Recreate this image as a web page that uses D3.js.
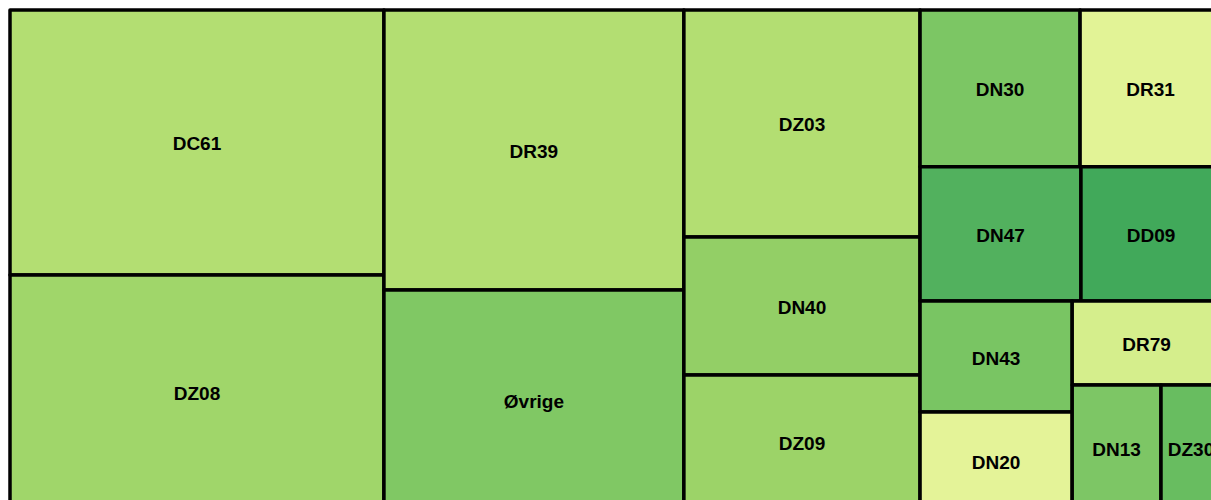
<!DOCTYPE html>
<html>
<head>
<meta charset="utf-8">
<script src="https://cdn.jsdelivr.net/npm/d3@7"></script>
<style>
  html, body { margin: 0; padding: 0; overflow: hidden; background: #fff; }
</style>
</head>
<body>
<div id="chart-area"></div>
<script>
// data (values ~ area)
var codes  = ["DC61", "DZ08", "DR39", "Øvrige", "DZ03", "DN40", "DZ09", "DN30",
              "DR31", "DN47", "DD09", "DN43", "DN20", "DR79", "DN13", "DZ30"];
var values = [991, 879, 840, 660, 536, 326, 319, 251,
              221, 216, 188, 169, 149, 125, 111, 75];
var colors = ["#b3de72", "#a0d66a", "#b3de72", "#80c864", "#b3de72", "#93cf66", "#9cd368", "#7cc664",
              "#e2f396", "#52b15e", "#41a95a", "#79c563", "#e4f398", "#d5ee8c", "#7dc665", "#68bd60"];

var margin = {top: 10, left: 10};
var width = 1211;
var height = 500;

var svg = d3.select('#chart-area')
    .append('svg')
        .attr('width', width + margin.left + 20)
        .attr('height', height + margin.top + 20)
        .style('display', 'block');

var g = svg.append('g')
    .attr('transform', 'translate(' + margin.left + ', ' + margin.top + ')');

var data = codes.map(function (c, i) {
    return {name: c, value: values[i], color: colors[i]};
});

var root = d3.hierarchy({children: data})
    .sum(function (d) { return d.value || 0; });

d3.treemap()
    .tile(d3.treemapSquarify.ratio(1))
    .size([width, height])
    .round(false)(root);

var cells = g.selectAll('g.cell')
    .data(root.leaves())
    .enter()
    .append('g')
        .attr('class', 'cell');

cells.append('rect')
    .attr('x', function (d) { return d.x0; })
    .attr('y', function (d) { return d.y0; })
    .attr('width', function (d) { return d.x1 - d.x0; })
    .attr('height', function (d) { return d.y1 - d.y0; })
    .attr('fill', function (d) { return d.data.color; })
    .attr('stroke', '#000')
    .attr('stroke-width', 3.5)
    .attr('stroke-linejoin', 'round');

cells.append('text')
    .attr('x', function (d) { return (d.x0 + d.x1) / 2; })
    .attr('y', function (d) { return (d.y0 + d.y1) / 2 + 1.5; })
    .attr('text-anchor', 'middle')
    .attr('dominant-baseline', 'central')
    .attr('font-family', 'Liberation Sans, Arial, sans-serif')
    .attr('font-weight', 'bold')
    .attr('font-size', '19px')
    .attr('fill', '#000')
    .text(function (d) { return d.data.name; });
</script>
</body>
</html>
